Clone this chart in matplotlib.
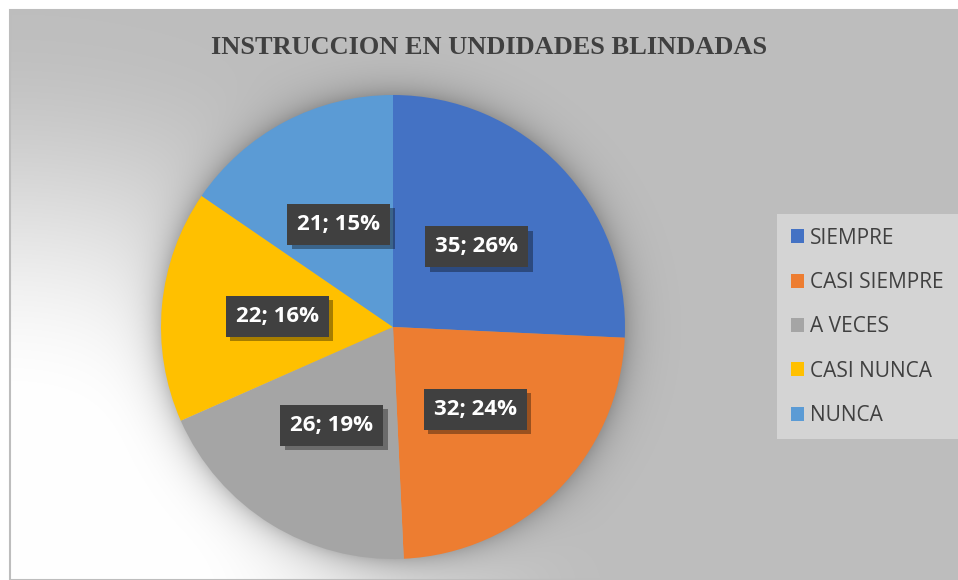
import matplotlib
matplotlib.use("Agg")
import matplotlib.pyplot as plt
import matplotlib.patheffects as pe
from matplotlib.patches import Rectangle
import numpy as np

categories = ["SIEMPRE", "CASI SIEMPRE", "A VECES", "CASI NUNCA", "NUNCA"]
counts = [35, 32, 26, 22, 21]
colors = ["#4472C4", "#ED7D31", "#A5A5A5", "#FFC000", "#5B9BD5"]
title = "INSTRUCCION EN UNDIDADES BLINDADAS"

W, H = 958, 580
fig = plt.figure(figsize=(W / 100, H / 100), dpi=100, facecolor="white")

# background: gray chart area with a white radial glow from the bottom-left
bg = fig.add_axes([0, 0, 1, 1])
bg.set_xlim(0, W)
bg.set_ylim(H, 0)
bg.axis("off")
x0, y0 = 10, 10
xx, yy = np.meshgrid(np.arange(x0, W) + 0.5, np.arange(y0, H) + 0.5)
r = np.hypot((xx - x0) * 0.95, yy - H)
t = np.clip((r - 170) / 400, 0, 1)
t = t * t * (3 - 2 * t)
light = 1.0 - t * (1.0 - 0.745)
# soft shadow around the pie
cx, cy, R = 393, 327, 232
d = np.hypot(xx - cx, yy - cy)
shadow = np.where(d > R, np.exp(-(d - R) / 15.0), 1.0)
light = light * (1 - 0.22 * shadow)
img = np.dstack([light, light, light])
bg.imshow(img, extent=(x0, W, H, y0), interpolation="bilinear", zorder=0)
bg.add_patch(Rectangle((x0, y0), W - x0, H - y0, fill=False, edgecolor="#bdbdbd", lw=1.5, zorder=1))

# pie
ax = fig.add_axes([(cx - R) / W, (H - cy - R) / H, 2 * R / W, 2 * R / H])
total = sum(counts)
wedges, texts, autotexts = ax.pie(
    counts,
    colors=colors,
    startangle=90,
    counterclock=False,
    autopct=lambda p: f"{round(p * total / 100)}; {p:.0f}%",
    pctdistance=0.5,
    wedgeprops=dict(linewidth=0),
)
ax.set_xlim(-1, 1)
ax.set_ylim(-1, 1)
ax.set_aspect("equal")
for at in autotexts:
    at.set_color("white")
    at.set_fontsize(16)
    at.set_fontweight("bold")
    at.set_fontfamily("Open Sans")
    at.set_bbox(dict(boxstyle="square,pad=0.45", facecolor="#404040", edgecolor="none"))
    at.get_bbox_patch().set_path_effects([
        pe.SimplePatchShadow(offset=(3, -3), shadow_rgbFace="black", alpha=0.35),
        pe.Normal(),
    ])

fig.text(489 / W, 1 - 48 / H, title, ha="center", va="center", fontsize=19,
         fontweight="bold", family="Liberation Serif", color="#404040")

leg = ax.legend(
    wedges, categories,
    loc="upper left",
    bbox_to_anchor=(777 / W, 1 - 214 / H),
    bbox_transform=fig.transFigure,
    borderaxespad=0,
    frameon=True,
    fancybox=False,
    facecolor="#d4d4d4",
    edgecolor="none",
    framealpha=1,
    prop={"family": "Open Sans", "size": 15},
    handlelength=0.65,
    handleheight=0.65,
    handletextpad=0.3,
    labelspacing=1.12,
    borderpad=0.65,
)
for txt in leg.get_texts():
    txt.set_color("#404040")

fig.savefig("out.png", dpi=100, facecolor="white")
